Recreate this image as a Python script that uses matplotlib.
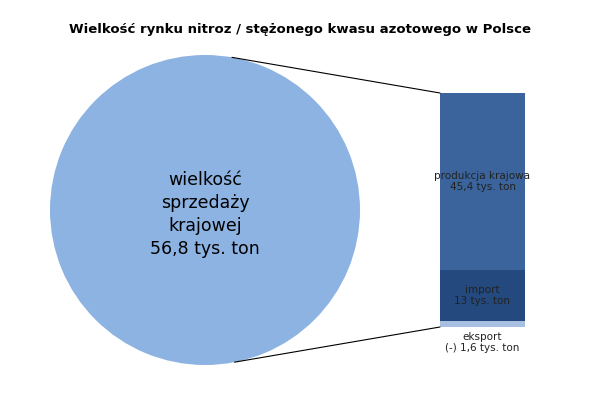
import matplotlib
matplotlib.use("Agg")
import matplotlib.pyplot as plt
from matplotlib.patches import ConnectionPatch
import numpy as np

title = "Wielkość rynku nitroz / stężonego kwasu azotowego w Polsce"
pie_value = [56.8]
pie_label = "wielkość\nsprzedaży\nkrajowej\n56,8 tys. ton"
bar_names = ["eksport", "import", "produkcja krajowa"]
bar_values = [1.6, 13.0, 45.4]
bar_labels = ["eksport\n(-) 1,6 tys. ton", "import\n13 tys. ton", "produkcja krajowa\n45,4 tys. ton"]
bar_colors = ["#A7BFE0", "#23497F", "#3B649C"]

fig = plt.figure(figsize=(6, 4), dpi=100)
fig.patch.set_facecolor("white")
fig.text(0.5, 1 - 30/400, title, ha="center", va="center", fontsize=9.5, fontweight="bold")

axp = fig.add_axes([50/600, 35/400, 310/600, 310/400])
axp.pie(pie_value, colors=["#8DB3E2"], startangle=90)
axp.set_xlim(-1, 1); axp.set_ylim(-1, 1); axp.set_aspect("equal")
axp.text(0, -0.03, pie_label, ha="center", va="center", fontsize=12.5, linespacing=1.35)

axb = fig.add_axes([440/600, 73/400, 85/600, 234/400])
bottom = 0
for v, c in zip(bar_values, bar_colors):
    axb.bar(0, v, bottom=bottom, width=1, color=c)
    bottom += v
axb.set_xlim(-0.5, 0.5); axb.set_ylim(0, sum(bar_values)); axb.axis("off")
axb.text(0, 1.6 + 13/2, bar_labels[1], ha="center", va="center", fontsize=7.5, color="#222222")
axb.text(0, 1.6 + 13 + 45.4/2, bar_labels[2], ha="center", va="center", fontsize=7.5, color="#222222")
axb.text(0, -1.2, bar_labels[0], ha="center", va="top", fontsize=7.5, color="#222222")

for ang, yb in [(80, sum(bar_values)), (-79, 0)]:
    a = np.deg2rad(ang)
    con = ConnectionPatch(xyA=(np.cos(a), np.sin(a)), coordsA=axp.transData,
                          xyB=(-0.5, yb), coordsB=axb.transData, color="black", lw=0.8)
    fig.add_artist(con)

fig.savefig("out.png", dpi=100)
